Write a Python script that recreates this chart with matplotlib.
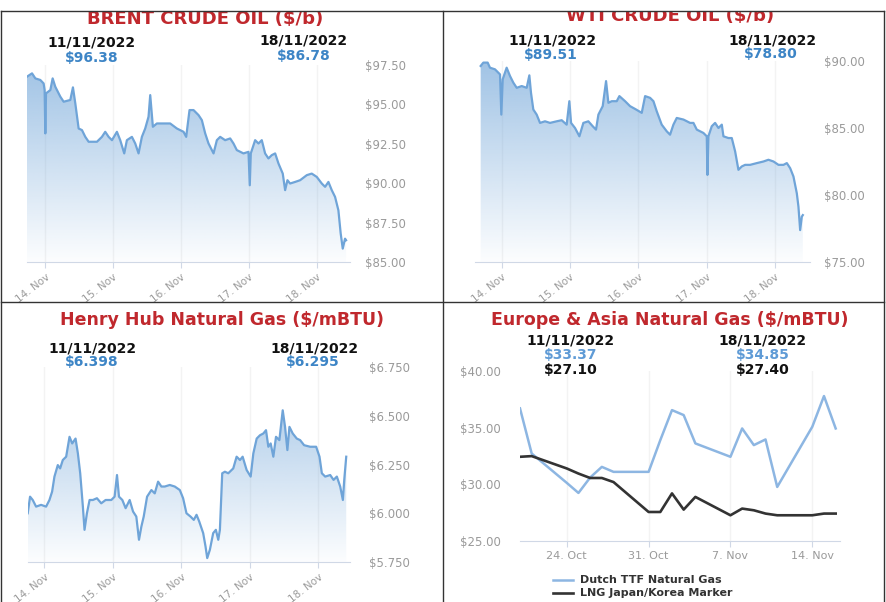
import numpy as np
import matplotlib
matplotlib.use('Agg')
import matplotlib.pyplot as plt
import matplotlib.dates as mdates
from matplotlib.lines import Line2D
from matplotlib.patches import Rectangle

# ---------------- DATA ----------------
# time in days from 14 Nov 2022 00:00
brent_t = [-0.27, -0.196, -0.147, -0.074, -0.025, -0.010, 0.0, 0.010, 0.074, 0.108, 0.147, 0.221, 0.270, 0.368,
           0.407, 0.442, 0.491, 0.540, 0.589, 0.638, 0.761, 0.834, 0.883, 0.933, 0.982, 1.055, 1.104, 1.163,
           1.202, 1.276, 1.325, 1.374, 1.423, 1.472, 1.521, 1.546, 1.585, 1.644, 1.742, 1.840, 1.939, 2.037,
           2.076, 2.125, 2.184, 2.258, 2.307, 2.356, 2.405, 2.479, 2.528, 2.577, 2.650, 2.724, 2.773, 2.822,
           2.920, 2.994, 3.013, 3.028, 3.092, 3.141, 3.190, 3.239, 3.288, 3.337, 3.387, 3.436, 3.499, 3.534,
           3.568, 3.607, 3.681, 3.755, 3.853, 3.926, 4.000, 4.074, 4.123, 4.172, 4.221, 4.270, 4.319, 4.353,
           4.383, 4.417, 4.432]
brent_v = [96.76, 96.97, 96.65, 96.55, 96.33, 95.91, 93.16, 95.70, 95.91, 96.65, 96.12, 95.49, 95.17, 95.28,
           96.08, 95.06, 93.47, 93.37, 92.94, 92.63, 92.63, 92.94, 93.26, 92.94, 92.73, 93.26, 92.73, 91.89,
           92.73, 92.94, 92.52, 91.89, 92.94, 93.47, 94.22, 95.59, 93.58, 93.79, 93.79, 93.79, 93.47, 93.26,
           92.94, 94.64, 94.64, 94.32, 94.00, 93.16, 92.52, 91.89, 92.73, 92.94, 92.73, 92.84, 92.52, 92.10,
           91.89, 91.99, 89.87, 91.89, 92.73, 92.52, 92.73, 91.89, 91.57, 91.78, 91.89, 91.25, 90.61, 89.56,
           90.19, 89.98, 90.08, 90.19, 90.51, 90.61, 90.40, 89.98, 89.77, 90.08, 89.56, 89.13, 88.28, 86.80,
           85.85, 86.48, 86.38]

wti_t = [-0.307, -0.268, -0.205, -0.171, -0.098, -0.024, -0.005, 0.015, 0.073, 0.122, 0.171, 0.220, 0.293,
         0.366, 0.405, 0.429, 0.463, 0.512, 0.561, 0.634, 0.707, 0.805, 0.878, 0.951, 0.990, 1.015, 1.073,
         1.137, 1.195, 1.268, 1.332, 1.380, 1.415, 1.478, 1.527, 1.561, 1.610, 1.683, 1.722, 1.805, 1.878,
         1.966, 2.049, 2.098, 2.171, 2.220, 2.268, 2.341, 2.415, 2.463, 2.512, 2.561, 2.659, 2.756, 2.805,
         2.854, 2.951, 3.000, 3.010, 3.024, 3.073, 3.122, 3.171, 3.220, 3.244, 3.317, 3.366, 3.415, 3.463,
         3.512, 3.561, 3.634, 3.732, 3.829, 3.902, 3.976, 4.049, 4.122, 4.171, 4.220, 4.268, 4.317, 4.341,
         4.366, 4.390, 4.405]
wti_v = [89.63, 89.88, 89.88, 89.50, 89.38, 89.00, 86.00, 88.63, 89.50, 88.88, 88.38, 88.00, 88.13, 88.00,
         88.93, 87.63, 86.38, 86.00, 85.38, 85.50, 85.38, 85.50, 85.58, 85.25, 87.00, 85.38, 85.00, 84.38,
         85.38, 85.50, 85.13, 84.88, 86.00, 86.63, 88.50, 86.88, 87.00, 87.00, 87.38, 87.00, 86.63, 86.38,
         86.13, 87.38, 87.25, 87.00, 86.25, 85.25, 84.75, 84.50, 85.25, 85.75, 85.63, 85.38, 85.38, 84.88,
         84.63, 84.38, 81.50, 84.38, 85.13, 85.38, 85.00, 85.25, 84.38, 84.25, 84.25, 83.25, 81.88, 82.13,
         82.25, 82.25, 82.38, 82.50, 82.63, 82.50, 82.25, 82.25, 82.38, 82.00, 81.38, 80.13, 79.13, 77.38,
         78.38, 78.50]

hh_t = [-0.244, -0.210, -0.171, -0.122, -0.049, 0.024, 0.073, 0.112, 0.146, 0.195, 0.229, 0.268, 0.317,
        0.366, 0.405, 0.454, 0.488, 0.522, 0.561, 0.585, 0.620, 0.659, 0.707, 0.766, 0.829, 0.893, 0.976,
        1.024, 1.059, 1.088, 1.137, 1.185, 1.244, 1.293, 1.341, 1.380, 1.415, 1.449, 1.498, 1.561, 1.610,
        1.659, 1.707, 1.756, 1.829, 1.902, 1.976, 2.024, 2.073, 2.132, 2.180, 2.220, 2.259, 2.317, 2.351,
        2.376, 2.415, 2.463, 2.502, 2.537, 2.561, 2.595, 2.634, 2.683, 2.756, 2.805, 2.854, 2.893, 2.951,
        3.010, 3.049, 3.098, 3.146, 3.195, 3.234, 3.268, 3.302, 3.341, 3.380, 3.429, 3.478, 3.512, 3.546,
        3.576, 3.624, 3.683, 3.732, 3.790, 3.878, 3.966, 4.015, 4.049, 4.098, 4.171, 4.220, 4.268, 4.317,
        4.356, 4.376, 4.405]
hh_v = [6.000, 6.085, 6.068, 6.034, 6.043, 6.034, 6.068, 6.111, 6.188, 6.247, 6.230, 6.273, 6.290,
        6.392, 6.358, 6.383, 6.307, 6.205, 6.034, 5.915, 6.000, 6.068, 6.068, 6.077, 6.051, 6.068, 6.068,
        6.085, 6.196, 6.085, 6.068, 6.026, 6.068, 6.009, 5.983, 5.864, 5.932, 5.983, 6.085, 6.119, 6.102,
        6.162, 6.137, 6.137, 6.145, 6.137, 6.119, 6.077, 6.000, 5.983, 5.966, 5.992, 5.958, 5.898, 5.830,
        5.770, 5.813, 5.898, 5.915, 5.864, 5.915, 6.205, 6.213, 6.205, 6.230, 6.290, 6.273, 6.290, 6.222,
        6.188, 6.307, 6.383, 6.400, 6.409, 6.426, 6.341, 6.358, 6.290, 6.392, 6.375, 6.528, 6.443, 6.324,
        6.443, 6.409, 6.383, 6.375, 6.349, 6.341, 6.341, 6.290, 6.205, 6.188, 6.196, 6.171, 6.188, 6.137,
        6.068, 6.171, 6.290]

gas_dates = ['2022-10-20', '2022-10-21', '2022-10-24', '2022-10-25', '2022-10-26', '2022-10-27',
             '2022-10-28', '2022-10-31', '2022-11-01', '2022-11-02', '2022-11-03', '2022-11-04',
             '2022-11-07', '2022-11-08', '2022-11-09', '2022-11-10', '2022-11-11', '2022-11-14',
             '2022-11-15', '2022-11-16']
ttf_v = [36.70, 32.72, 30.13, 29.24, 30.60, 31.54, 31.10, 31.10, 33.90, 36.55, 36.11, 33.61,
         32.43, 34.93, 33.46, 33.96, 29.77, 35.08, 37.79, 34.93]
lng_v = [32.43, 32.49, 31.40, 30.95, 30.56, 30.56, 30.20, 27.56, 27.56, 29.20, 27.77, 28.89,
         27.27, 27.86, 27.71, 27.42, 27.27, 27.27, 27.42, 27.42]

day_labels = ['14. Nov', '15. Nov', '16. Nov', '17. Nov', '18. Nov']
brent_ticks = [85, 87.5, 90, 92.5, 95, 97.5]
brent_labels = ['$85.00', '$87.50', '$90.00', '$92.50', '$95.00', '$97.50']
wti_ticks = [75, 80, 85, 90]
wti_labels = ['$75.00', '$80.00', '$85.00', '$90.00']
hh_ticks = [5.75, 6.0, 6.25, 6.5, 6.75]
hh_labels = ['$5.750', '$6.000', '$6.250', '$6.500', '$6.750']
gas_ticks = [25, 30, 35, 40]
gas_labels = ['$25.00', '$30.00', '$35.00', '$40.00']
gas_xticks = ['2022-10-24', '2022-10-31', '2022-11-07', '2022-11-14']
gas_xlabels = ['24. Oct', '31. Oct', '7. Nov', '14. Nov']

# ---------------- STYLE ----------------
W, H = 887, 602
RED = '#c0282d'
BLUE_TXT = '#3d85c6'
BLUE_TXT2 = '#5f9bd6'
LINE = '#6fa4d8'
TTF = '#8db6e2'
GRAY = '#9a9a9a'
AXIS = '#d0d8e6'

fig = plt.figure(figsize=(8.87, 6.02), dpi=100)
fig.patch.set_facecolor('white')


def axbox(l, t, r, b):
    return fig.add_axes([l / W, 1 - b / H, (r - l) / W, (b - t) / H])


def ftext(x, y, s, **kw):
    kw.setdefault('ha', 'center')
    kw.setdefault('va', 'center')
    fig.text(x / W, 1 - y / H, s, **kw)


def grad_fill(ax, x, y, base, color, a_top=0.66, a_bot=0.02):
    coll = ax.fill_between(x, y, base, facecolor='none', edgecolor='none')
    path = coll.get_paths()[0]
    rgb = matplotlib.colors.to_rgb(color)
    n = 256
    g = np.zeros((n, 1, 4))
    g[:, 0, :3] = rgb
    g[:, 0, 3] = np.linspace(a_top, a_bot, n)
    x0, x1 = ax.get_xlim()
    y0, y1 = ax.get_ylim()
    im = ax.imshow(g, extent=[x0, x1, y0, y1], aspect='auto', origin='upper',
                   zorder=1, interpolation='bilinear')
    im.set_clip_path(path, transform=ax.transData)
    ax.set_xlim(x0, x1)
    ax.set_ylim(y0, y1)


def style_right(ax, xlim, ylim, yticks, ylabels, pad):
    ax.set_xlim(xlim)
    ax.set_ylim(ylim)
    for s in ['top', 'left', 'right']:
        ax.spines[s].set_visible(False)
    ax.spines['bottom'].set_color(AXIS)
    ax.yaxis.tick_right()
    ax.set_yticks(yticks)
    ax.set_yticklabels(ylabels)
    ax.tick_params(axis='y', length=0, pad=pad, labelsize=8.5, labelcolor=GRAY)
    ax.set_xticks(range(5))
    ax.set_xticklabels(day_labels, rotation=38, ha='right', rotation_mode='anchor')
    ax.tick_params(axis='x', length=4, color=AXIS, labelsize=7.5, labelcolor=GRAY, pad=3)
    ax.grid(axis='x', color='#f3f3f3', lw=1)
    ax.set_axisbelow(True)
    ax.patch.set_alpha(0)


def oil_panel(box, t, v, xlim, ylim, yticks, ylabels, pad):
    ax = axbox(*box)
    style_right(ax, xlim, ylim, yticks, ylabels, pad)
    grad_fill(ax, t, v, ylim[0], LINE)
    ax.plot(t, v, color=LINE, lw=1.6, zorder=3)
    return ax


# Brent
oil_panel((27, 65, 350, 262), brent_t, brent_v, (-0.27, 4.49), (85, 97.5), brent_ticks, brent_labels, 11)
# WTI
oil_panel((475, 61, 810, 262), wti_t, wti_v, (-0.39, 4.51), (75, 90), wti_ticks, wti_labels, 10)
# Henry Hub
oil_panel((28, 367, 350, 562), hh_t, hh_v, (-0.24, 4.46), (5.75, 6.75), hh_ticks, hh_labels, 14)

# Europe & Asia
ax = axbox(520, 371, 840, 541)
d = np.array(gas_dates, dtype='datetime64[D]')
x0 = mdates.date2num(np.datetime64('2022-10-20'))
x1 = mdates.date2num(np.datetime64('2022-11-16')) + 0.37
ax.set_xlim(x0, x1)
ax.set_ylim(25, 40)
for s in ['top', 'left', 'right']:
    ax.spines[s].set_visible(False)
ax.spines['bottom'].set_color(AXIS)
ax.set_yticks(gas_ticks)
ax.set_yticklabels(gas_labels)
ax.tick_params(axis='y', length=0, pad=14, labelsize=8.5, labelcolor=GRAY)
ax.set_xticks(mdates.date2num(np.array(gas_xticks, dtype='datetime64[D]')))
ax.set_xticklabels(gas_xlabels)
ax.tick_params(axis='x', length=4, color=AXIS, labelsize=8, labelcolor=GRAY, pad=3)
ax.grid(axis='x', color='#f3f3f3', lw=1)
ax.set_axisbelow(True)
ax.patch.set_alpha(0)
ax.plot(mdates.date2num(d), ttf_v, color=TTF, lw=1.8, zorder=3)
ax.plot(mdates.date2num(d), lng_v, color='#333333', lw=1.9, zorder=3)

# legend
fig.add_artist(Line2D([553 / W, 573 / W], [1 - 580 / H, 1 - 580 / H], color=TTF, lw=1.8))
fig.add_artist(Line2D([553 / W, 573 / W], [1 - 593 / H, 1 - 593 / H], color='#333333', lw=1.9))
ftext(580, 580, 'Dutch TTF Natural Gas', ha='left', fontsize=8, fontweight='bold', color='#333333')
ftext(580, 593, 'LNG Japan/Korea Marker', ha='left', fontsize=8, fontweight='bold', color='#333333')

# ---------------- TEXT ----------------
B = dict(fontweight='bold')
ftext(205, 23.5, 'BRENT CRUDE OIL ($/b)', va='baseline', fontsize=13, color=RED, **B)
ftext(670, 21, 'WTI CRUDE OIL ($/b)', va='baseline', fontsize=13, color=RED, **B)
ftext(222, 320, 'Henry Hub Natural Gas ($/mBTU)', fontsize=12.5, color=RED, **B)
ftext(670, 320, 'Europe & Asia Natural Gas ($/mBTU)', fontsize=12.5, color=RED, **B)

ftext(92, 43, '11/11/2022', fontsize=10, color='#111111', **B)
ftext(92, 58, '$96.38', fontsize=10, color=BLUE_TXT, **B)
ftext(304, 41, '18/11/2022', fontsize=10, color='#111111', **B)
ftext(304, 56, '$86.78', fontsize=10, color=BLUE_TXT, **B)

ftext(553, 41, '11/11/2022', fontsize=10, color='#111111', **B)
ftext(551, 55, '$89.51', fontsize=10, color=BLUE_TXT, **B)
ftext(773, 40, '18/11/2022', fontsize=10, color='#111111', **B)
ftext(771, 54, '$78.80', fontsize=10, color=BLUE_TXT, **B)

ftext(93, 348, '11/11/2022', fontsize=10, color='#111111', **B)
ftext(92, 362, '$6.398', fontsize=10, color=BLUE_TXT, **B)
ftext(315, 348, '18/11/2022', fontsize=10, color='#111111', **B)
ftext(313, 362, '$6.295', fontsize=10, color=BLUE_TXT, **B)

ftext(571, 340, '11/11/2022', fontsize=10, color='#111111', **B)
ftext(571, 355, '$33.37', fontsize=10, color=BLUE_TXT2, **B)
ftext(571, 370, '$27.10', fontsize=10, color='#111111', **B)
ftext(763, 340, '18/11/2022', fontsize=10, color='#111111', **B)
ftext(763, 355, '$34.85', fontsize=10, color=BLUE_TXT2, **B)
ftext(763, 370, '$27.40', fontsize=10, color='#111111', **B)

# ---------------- FRAME ----------------
fig.add_artist(Rectangle((0, 1 - 11 / H), 1, 11 / H, transform=fig.transFigure,
                         facecolor='white', edgecolor='none', zorder=5))


def hline(y, xa, xb):
    fig.add_artist(Line2D([xa / W, xb / W], [1 - y / H, 1 - y / H], color='#333333', lw=1, zorder=6))


def vline(x, ya, yb):
    fig.add_artist(Line2D([x / W, x / W], [1 - ya / H, 1 - yb / H], color='#333333', lw=1, zorder=6))


hline(11, 1, 884)
hline(302, 1, 884)
vline(1, 11, 602)
vline(443, 11, 602)
vline(884, 11, 602)

fig.savefig('out.png', dpi=100, facecolor='white')
